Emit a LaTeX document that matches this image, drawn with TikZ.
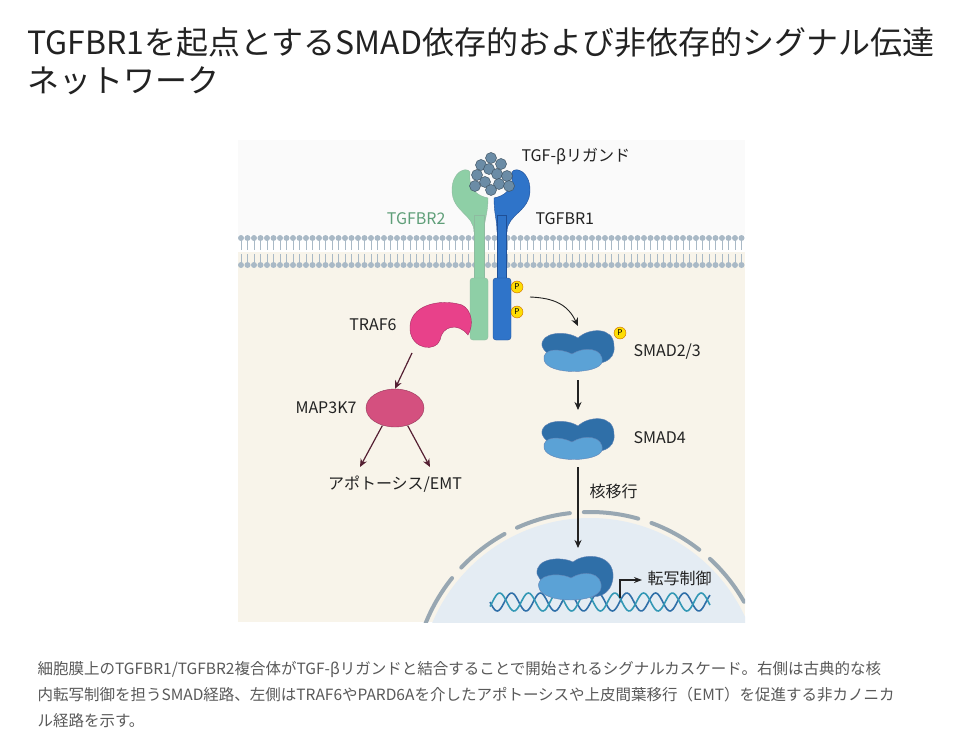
\documentclass[tikz,border=0pt]{standalone}
\usepackage{fontspec}
\setmainfont{Noto Sans CJK JP}
\usepackage{tikz}
\usetikzlibrary{arrows.meta,shapes.geometric}
\definecolor{rgreen}{HTML}{8ECFA6}
\definecolor{rgreenD}{HTML}{5E9E78}
\definecolor{rblue}{HTML}{2F74C9}
\definecolor{rblueD}{HTML}{1F4F96}
\definecolor{smadD}{HTML}{2F6FA8}
\definecolor{smadL}{HTML}{5BA2D6}
\definecolor{pinkT}{HTML}{E8418A}
\definecolor{pinkM}{HTML}{D4507F}
\definecolor{cyto}{HTML}{F8F4EA}
\definecolor{nuc}{HTML}{E4ECF3}
\definecolor{lipid}{HTML}{A9B9C6}
\definecolor{ligc}{HTML}{6B8CA6}
\definecolor{txt}{HTML}{222222}
\tikzset{
  lbl/.style={font=\fontsize{16}{18}\selectfont, text=txt},
  arr/.style={-{Stealth[length=8pt,width=7pt]}, line width=1.2pt, draw=#1},
  arr/.default={txt},
  phos/.style={circle, fill=yellow!80!orange, draw=orange!80!black, inner sep=0pt, minimum size=12pt, font=\fontsize{8}{8}\selectfont},
  ball/.style={circle, fill=ligc, draw=ligc!60!black, line width=0.5pt, inner sep=0pt, minimum size=11pt},
}
\newcommand{\smadpair}[2]{% position, name
  \begin{scope}[shift={#1}]
    \fill[smadD, draw=rblueD!70] (-36,-6) .. controls (-38,-20) and (-12,-22) .. (0,-14) .. controls (10,-24) and (36,-26) .. (36,-6) .. controls (38,10) and (20,14) .. (10,10) .. controls (-5,4) and (-30,10) .. (-36,-6) -- cycle;
    \fill[smadL, draw=rblueD!70] (-34,8) .. controls (-36,-4) and (-18,-4) .. (-6,2) .. controls (6,-6) and (26,-4) .. (24,10) .. controls (22,22) and (-30,24) .. (-34,8) -- cycle;
    \coordinate (#2) at (0,0);
  \end{scope}}
\begin{document}
\begin{tikzpicture}[x=1pt,y=-1pt]
\useasboundingbox (0,0) rectangle (974,746);
\fill[white] (0,0) rectangle (974,746);

% title
\node[anchor=west, font=\fontsize{32}{36}\selectfont, text=txt] (title1) at (24,42) {TGFBR1を起点とするSMAD依存的および非依存的シグナル伝達};
\node[anchor=west, font=\fontsize{32}{36}\selectfont, text=txt] (title2) at (24,81) {ネットワーク};

% panel
\fill[black!2] (238,140) rectangle (745,235);
\fill[cyto] (238,252) rectangle (745,622);
\begin{scope}
  \clip (238,140) rectangle (745,622);
  \fill[nuc] (590,689) circle (171);
  \draw[lipid!90!black, line width=4pt, line cap=round, dash pattern=on 55pt off 14pt] (590,689) circle (177);
\end{scope}

% membrane
\foreach \x in {241,247.5,...,745} {
  \draw[lipid, line width=0.5pt] (\x,240) -- (\x,250) (\x,254) -- (\x,263);
  \fill[lipid] (\x,238) circle (3);
  \fill[lipid] (\x,265) circle (3);
}

% TGFBR2
\fill[rgreen, draw=rgreenD!70] (474,232) .. controls (474,214) and (452,212) .. (452,190) .. controls (452,172) and (466,166) .. (470,172) .. controls (468,190) and (478,196) .. (488,198) .. controls (488,214) and (484,220) .. (484,232) -- cycle;
\fill[rgreen, draw=rgreenD!70] (474,215) rectangle (484,280);
\fill[rgreen, draw=rgreenD!70, rounded corners=3pt] (470,278) rectangle (488,340);
\node[lbl, text=rgreenD, anchor=east] (r2) at (449,219) {TGFBR2};
% TGFBR1
\fill[rblue, draw=rblueD] (507,232) .. controls (507,214) and (530,212) .. (530,190) .. controls (530,172) and (516,166) .. (512,172) .. controls (514,190) and (504,196) .. (494,198) .. controls (494,214) and (497,220) .. (497,232) -- cycle;
\fill[rblue, draw=rblueD] (497,215) rectangle (506,280);
\fill[rblue, draw=rblueD, rounded corners=3pt] (493,278) rectangle (511,340);
\node[lbl, anchor=west] (r1) at (532,219) {TGFBR1};
\node[phos] (p1) at (517,287) {P};
\node[phos] (p2) at (517,312) {P};

% ligand
\foreach \dx/\dy in {0/-20,-10/-13,10/-14,-2/-9,-14/-3,6/-4,16/-2,-6/4,8/6,-16/8,18/8,0/12} {
  \node[ball] at (491+\dx,178+\dy) {};
}
\node[lbl, anchor=west] (lig) at (518,157) {TGF-βリガンド};

% TRAF6
\fill[pinkT, draw=pinkT!70!black] (410,330) .. controls (408,305) and (440,298) .. (462,305) .. controls (472,310) and (474,325) .. (468,335) .. controls (458,322) and (442,326) .. (440,340) .. controls (436,352) and (412,350) .. (410,330) -- cycle;
\node[lbl, anchor=east] (traf) at (400,325) {TRAF6};
% MAP3K7
\node[ellipse, fill=pinkM, draw=pinkM!70!black, minimum width=58pt, minimum height=38pt] (map) at (395,408) {};
\node[lbl, anchor=east] (mapl) at (360,408) {MAP3K7};
\node[lbl] (apo) at (395,484) {アポトーシス/EMT};
\coordinate (trafout) at (412,353);
\draw[arr=pinkM!40!black] (trafout) -- (map.north);
\draw[arr=pinkM!40!black] (map.south west) ++(8,4) -- (360,467);
\draw[arr=pinkM!40!black] (map.south east) ++(-8,4) -- (430,467);

% SMAD2/3
\smadpair{(578,352)}{s23}
\node[phos] (p3) at (620,333) {P};
\node[lbl, anchor=west] (s23l) at (630,352) {SMAD2/3};
\draw[arr, line width=0.9pt] (530,297) .. controls (555,298) and (568,305) .. (578,326);
% SMAD4
\smadpair{(578,440)}{s4}
\node[lbl, anchor=west] (s4l) at (630,438) {SMAD4};
\draw[arr] (578,380) -- (578,410);
\draw[arr] (578,467) -- (578,548);
\node[lbl, anchor=west] (trans) at (586,491) {核移行};

% DNA
\draw[smadD, line width=1.6pt, domain=490:710, samples=150, smooth] plot (\x, {602+9*sin((\x-490)*12.5)});
\draw[smadL!70!cyan!80!black, line width=1.6pt, domain=490:710, samples=150, smooth] plot (\x, {602+9*sin((\x-490)*12.5+150)});
% nuclear complex
\begin{scope}[shift={(575,578)}]
  \fill[smadD, draw=rblueD!70] (-38,-4) .. controls (-40,-20) and (-14,-22) .. (-2,-16) .. controls (10,-26) and (40,-24) .. (38,0) .. controls (36,18) and (20,22) .. (10,16) -- (-30,10) -- cycle;
  \fill[smadL, draw=rblueD!70] (-36,10) .. controls (-40,-4) and (-16,-6) .. (-4,0) .. controls (8,-8) and (28,-6) .. (26,10) .. controls (24,26) and (-32,26) .. (-36,10) -- cycle;
\end{scope}
\coordinate (tss) at (620,598);
\draw[-{Stealth[length=8pt]}, line width=1.2pt, txt] (tss) -- (620,580) -- (642,580);
\node[lbl, anchor=west] (tx) at (644,578) {転写制御};

% caption
\node[anchor=west, font=\fontsize{15.5}{18}\selectfont, text=black!65] (c1) at (34,669) {細胞膜上のTGFBR1/TGFBR2複合体がTGF-βリガンドと結合することで開始されるシグナルカスケード。右側は古典的な核};
\node[anchor=west, font=\fontsize{15.5}{18}\selectfont, text=black!65] (c2) at (34,695) {内転写制御を担うSMAD経路、左側はTRAF6やPARD6Aを介したアポトーシスや上皮間葉移行（EMT）を促進する非カノニカ};
\node[anchor=west, font=\fontsize{15.5}{18}\selectfont, text=black!65] (c3) at (34,721) {ル経路を示す。};
\end{tikzpicture}
\end{document}
